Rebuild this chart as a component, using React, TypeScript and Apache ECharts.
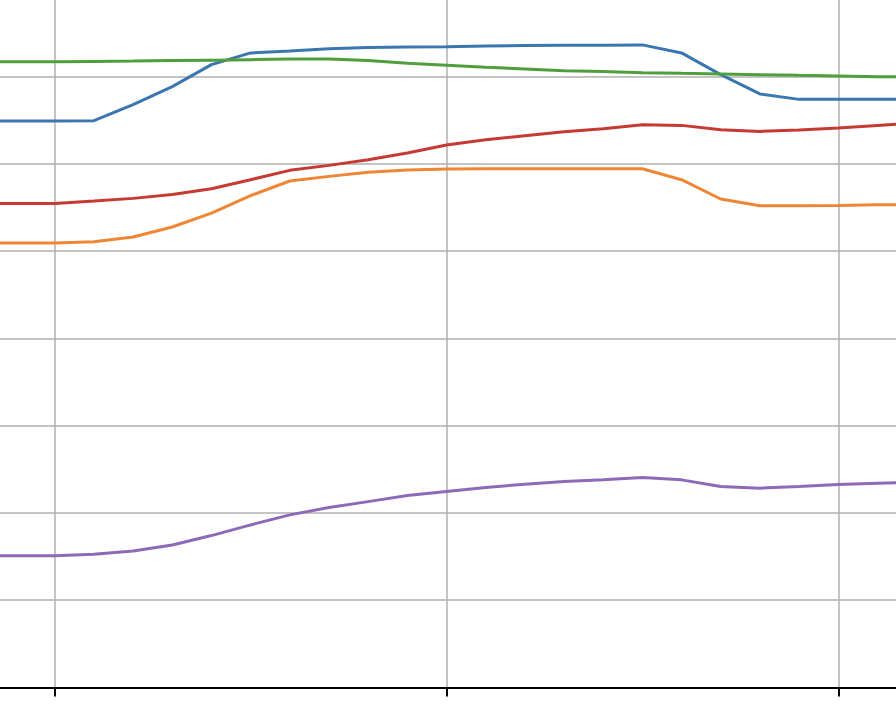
import React, { useEffect, useRef } from "react";
import * as echarts from "echarts";

const xValues = [8, 9, 10, 11, 12, 13, 14, 15, 16, 17, 18, 19, 20, 21, 22, 23, 24, 25, 26, 27, 28, 29, 30, 31, 32];

const blueValues = [6.489, 6.489, 6.489, 6.492, 6.675, 6.882, 7.134, 7.268, 7.289, 7.317, 7.329, 7.337, 7.340, 7.348, 7.352, 7.355, 7.357, 7.360, 7.268, 7.019, 6.798, 6.736, 6.736, 6.736, 6.736];
const orangeValues = [5.091, 5.091, 5.091, 5.105, 5.159, 5.274, 5.434, 5.633, 5.801, 5.854, 5.900, 5.927, 5.939, 5.942, 5.942, 5.942, 5.942, 5.942, 5.816, 5.595, 5.518, 5.518, 5.521, 5.529, 5.529];
const greenValues = [7.168, 7.168, 7.168, 7.171, 7.174, 7.180, 7.185, 7.191, 7.197, 7.197, 7.180, 7.149, 7.126, 7.103, 7.085, 7.065, 7.054, 7.042, 7.034, 7.027, 7.019, 7.011, 7.004, 6.996, 6.991];
const redValues = [5.544, 5.544, 5.544, 5.572, 5.602, 5.647, 5.713, 5.816, 5.923, 5.980, 6.045, 6.122, 6.214, 6.274, 6.320, 6.366, 6.400, 6.446, 6.438, 6.389, 6.369, 6.385, 6.408, 6.438, 6.463];
const purpleValues = [1.510, 1.510, 1.510, 1.526, 1.564, 1.633, 1.740, 1.862, 1.977, 2.061, 2.129, 2.198, 2.244, 2.290, 2.329, 2.358, 2.378, 2.404, 2.378, 2.301, 2.283, 2.301, 2.324, 2.340, 2.352];

const seriesNames = ["blue", "orange", "green", "red", "purple"];
const seriesColors = ["#3a76af", "#ef8636", "#519e3e", "#c53a32", "#8d6ab8"];
const seriesValues = [blueValues, orangeValues, greenValues, redValues, purpleValues];

export default function App() {
  const ref = useRef<HTMLDivElement>(null);
  useEffect(() => {
    if (!ref.current) return;
    document.documentElement.style.overflow = "hidden";
    document.body.style.overflow = "hidden";
    const chart = echarts.init(ref.current, undefined, { renderer: "svg" });
    chart.setOption({
      animation: false,
      backgroundColor: "#ffffff",
      grid: { left: 0, right: 0, top: 0, bottom: 28.5, containLabel: false },
      xAxis: {
        type: "value",
        min: 0,
        max: 40,
        interval: 10,
        axisLine: { show: true, onZero: false, lineStyle: { color: "#000000", width: 2 } },
        axisTick: { show: true, inside: false, length: 9, lineStyle: { color: "#000000", width: 2 } },
        axisLabel: { show: false },
        splitLine: { show: true, lineStyle: { color: "#b0b0b0", width: 1.5 } },
      },
      yAxis: {
        type: "value",
        min: 0,
        max: 8,
        interval: 1,
        axisLine: { show: false },
        axisTick: { show: false },
        axisLabel: { show: false },
        splitLine: { show: true, lineStyle: { color: "#b0b0b0", width: 1.5 } },
      },
      series: seriesNames.map((name, i) => ({
        name,
        type: "line",
        data: xValues.map((x, j) => [x, seriesValues[i][j]]),
        showSymbol: false,
        symbol: "none",
        smooth: false,
        lineStyle: { color: seriesColors[i], width: 3 },
        itemStyle: { color: seriesColors[i] },
      })),
    });
    return () => chart.dispose();
  }, []);
  return (
    <div
      style={{ position: "fixed", left: 0, top: 0, width: 896, height: 716, overflow: "hidden", background: "#fff" }}
    >
      <div
        ref={ref}
        style={{ position: "absolute", left: -336.85, top: -10.6, width: 1567.4, height: 726.6 }}
      />
    </div>
  );
}
